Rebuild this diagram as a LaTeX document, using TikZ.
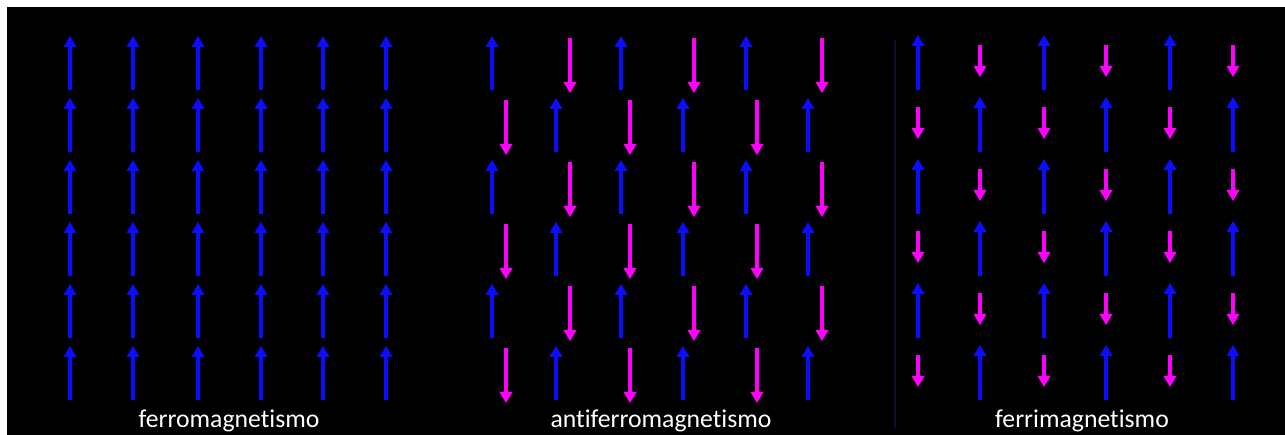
\documentclass[tikz,border=0pt]{standalone}
\usepackage{fontspec}
\setmainfont[Ligatures=NoCommon]{Carlito}
\definecolor{spinup}{RGB}{12,12,255}
\definecolor{spindown}{RGB}{255,0,255}
\definecolor{faintline}{RGB}{14,14,46}
% one spin: x, tail y, tip y, colour
\newcommand\spinarrow[4]{%
  \pgfmathsetmacro\spindir{ifthenelse(#3>#2,1,-1)}%
  \fill[#4] ({#1-1.6},{#2}) rectangle ({#1+1.6},{#3-\spindir*9});
  \fill[#4] ({#1},{#3}) -- ({#1-6.5},{#3-\spindir*11}) -- ({#1+6.5},{#3-\spindir*11}) -- cycle;
}
\begin{document}
\begin{tikzpicture}[x=1pt,y=-1pt,
  caption/.style={text=white,font=\fontsize{25.7}{30}\selectfont,anchor=base,inner sep=0pt}]
% page and dark panel
\fill[white] (0,0) rectangle (1285,435);
\fill[black] (7,7) rectangle (1285,435);
\useasboundingbox (0,0) rectangle (1285,435);

% ferromagnetic lattice: all spins up
\foreach \r in {0,...,5}{
  \pgfmathsetmacro\yc{63+62*\r}
  \foreach \x in {70,133,198,261,323,386}
    {\spinarrow{\x}{\yc+27}{\yc-27}{spinup}}
}

% antiferromagnetic lattice: equal spins, alternating and staggered
\foreach \r in {0,2,4}{
  \pgfmathsetmacro\yc{63+62*\r}
  \foreach \x in {492,621,746}
    {\spinarrow{\x}{\yc+27}{\yc-27}{spinup}}
  \foreach \x in {570,694,822}
    {\spinarrow{\x}{\yc-25}{\yc+30}{spindown}}
}
\foreach \r in {1,3,5}{
  \pgfmathsetmacro\yc{63+62*\r}
  \foreach \x in {556,683,808}
    {\spinarrow{\x}{\yc+27}{\yc-27}{spinup}}
  \foreach \x in {506,630,757}
    {\spinarrow{\x}{\yc-25}{\yc+30}{spindown}}
}

% ferrimagnetic lattice: long spins up, short spins down
\draw[faintline,line width=1.5pt] (895,40) -- (895,428);
\foreach \r in {0,2,4}{
  \pgfmathsetmacro\yc{63+62*\r}
  \foreach \x in {918,1044,1170}
    {\spinarrow{\x}{\yc+27}{\yc-28}{spinup}}
  \foreach \x in {980,1106,1233}
    {\spinarrow{\x}{\yc-18}{\yc+14}{spindown}}
}
\foreach \r in {1,3,5}{
  \pgfmathsetmacro\yc{63+62*\r}
  \foreach \x in {980,1106,1233}
    {\spinarrow{\x}{\yc+27}{\yc-28}{spinup}}
  \foreach \x in {918,1044,1170}
    {\spinarrow{\x}{\yc-18}{\yc+14}{spindown}}
}

% captions
\node[caption] (ferro) at (229,427) {ferromagnetismo};
\node[caption] (antiferro) at (661,427) {antiferromagnetismo};
\node[caption] (ferri) at (1082,427) {ferrimagnetismo};
\end{tikzpicture}
\end{document}
